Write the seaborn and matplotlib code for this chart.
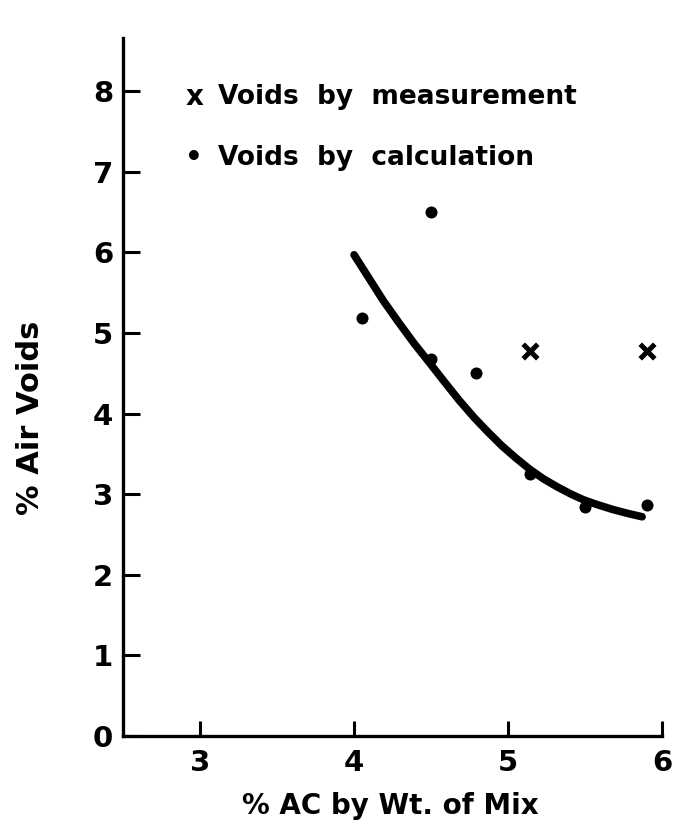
import matplotlib
matplotlib.use("Agg")
import matplotlib.pyplot as plt
import pandas as pd
import seaborn as sns

# values
ac_calc = [4.05, 4.50, 4.50, 4.79, 5.14, 5.50, 5.90]
voids_calc = [5.18, 6.50, 4.68, 4.50, 3.25, 2.84, 2.87]

ac_meas = [5.14, 5.90]
voids_meas = [4.78, 4.78]

# hand-drawn trend curve, traced point by point
curve_ac = [4.00, 4.10, 4.19, 4.29, 4.39, 4.49, 4.58, 4.68, 4.78, 4.87, 4.96,
            5.05, 5.14, 5.23, 5.32, 5.41, 5.49, 5.58, 5.68, 5.78, 5.87]
curve_voids = [5.97, 5.67, 5.40, 5.13, 4.87, 4.63, 4.41, 4.17, 3.95, 3.77, 3.60,
               3.45, 3.31, 3.19, 3.09, 3.00, 2.93, 2.87, 2.81, 2.76, 2.72]

x_ticks = [3, 4, 5, 6]
y_ticks = [0, 1, 2, 3, 4, 5, 6, 7, 8]

legend_lines = ["Voids  by  measurement", "Voids  by  calculation"]
legend_symbols = ["x", "\u2022"]

sns.set_theme(style="ticks")
plt.rcParams["font.family"] = ["DejaVu Sans"]
plt.rcParams["font.weight"] = "bold"
plt.rcParams["text.color"] = "black"
plt.rcParams["axes.labelcolor"] = "black"

calc = pd.DataFrame({"ac": ac_calc, "voids": voids_calc})
meas = pd.DataFrame({"ac": ac_meas, "voids": voids_meas})
curve = pd.DataFrame({"ac": curve_ac, "voids": curve_voids})

fig = plt.figure(figsize=(6.85, 8.31), dpi=100)
ax = fig.add_axes([0.1796, 0.1143, 0.787, 0.84])

sns.lineplot(data=curve, x="ac", y="voids", ax=ax, color="black", lw=5.5,
             sort=True, solid_capstyle="round", solid_joinstyle="round")
sns.scatterplot(data=calc, x="ac", y="voids", ax=ax, color="black", s=75,
                marker="o", edgecolor="black", linewidth=0, zorder=3)
sns.scatterplot(data=meas, x="ac", y="voids", ax=ax, color="black", s=110,
                marker="x", linewidth=3.6, zorder=3)

ax.set_xlim(2.5, 6.0)
ax.set_ylim(0, 8.66)
ax.set_xticks(x_ticks)
ax.set_yticks(y_ticks)
ax.set_xticklabels([str(t) for t in x_ticks])
ax.set_yticklabels([str(t) for t in y_ticks])

sns.despine(ax=ax)
for side in ["left", "bottom"]:
    ax.spines[side].set_linewidth(2.4)
    ax.spines[side].set_color("black")

ax.tick_params(axis="x", direction="in", length=11, width=2.2, pad=9,
               labelsize=21, colors="black")
ax.tick_params(axis="y", direction="in", length=12, width=2.2, pad=7,
               labelsize=21, colors="black")
for lab in ax.get_xticklabels() + ax.get_yticklabels():
    lab.set_fontweight("bold")

ax.set_xlabel("% AC by Wt. of Mix", fontsize=20, fontweight="bold")
ax.set_ylabel("% Air Voids", fontsize=22, fontweight="bold")
ax.xaxis.set_label_coords(0.495, -0.08)
ax.yaxis.set_label_coords(-0.145, 0.456)

# legend drawn as text, the way the original labels its symbols
for i, (sym, line) in enumerate(zip(legend_symbols, legend_lines)):
    y = 0.915 - i * 0.087
    ax.text(0.132, y, sym, transform=ax.transAxes, ha="center", va="center",
            fontsize=20, fontweight="bold")
    ax.text(0.176, y, line, transform=ax.transAxes, ha="left", va="center",
            fontsize=19, fontweight="bold")

plt.savefig("out.png", dpi=100)
